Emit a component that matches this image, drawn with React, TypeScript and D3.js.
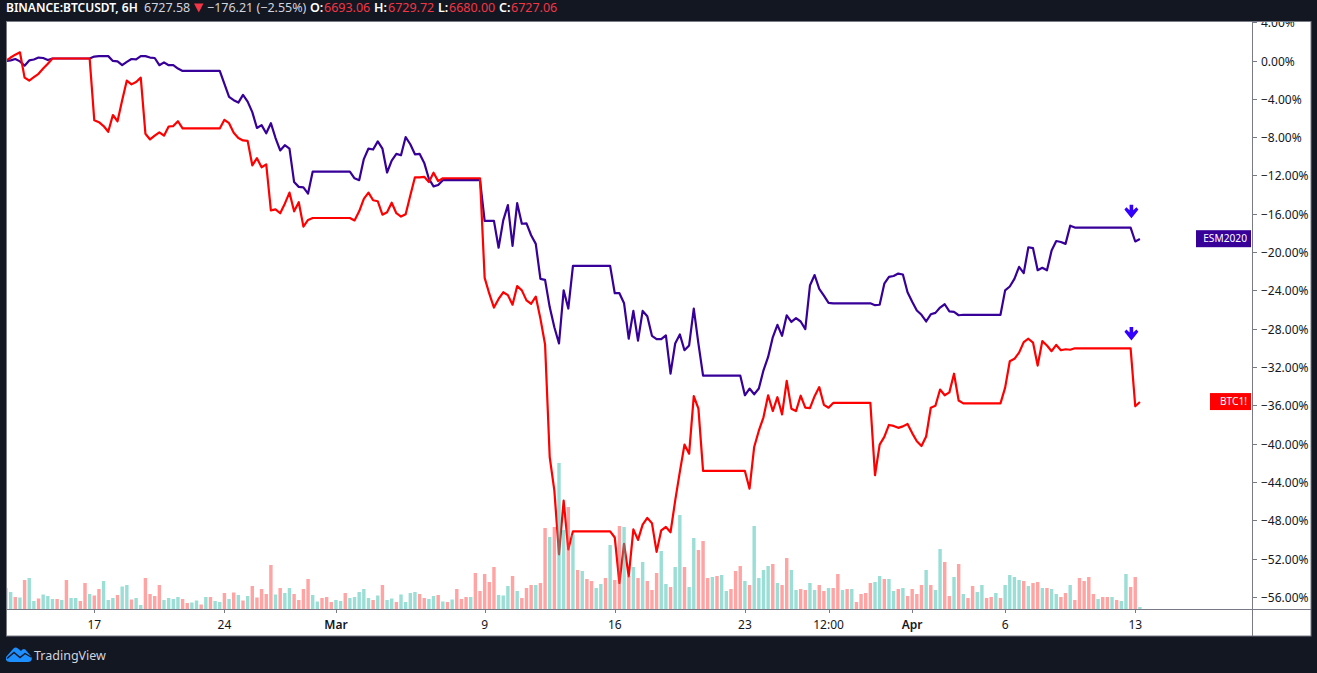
import React from "react";
import * as d3 from "d3";

const W = 1317, H = 673;

// percent change, one value per 6h bar
const esmValues: number[] = [
  /*0*/ 0, 0.05, 0.2, -0.05, -0.5, 0.05, 0.15, 0.35, 0.3, 0.1,
  /*10*/ 0.25, 0.25, 0.25, 0.25, 0.25, 0.25, 0.25, 0.25, 0.25,
  /*19*/ 0.45, 0.5, 0.5, 0.5, 0, -0.05, -0.45, -0.1, 0.2, 0.15, 0.5, 0.5, 0.35, 0.3, -0.45, -0.15, -0.45, -0.45, -0.8,
  /*38*/ -1.05, -1.05, -1.05, -1.05, -1.05, -1.05, -1.05, -1.05, -1.05,
  /*47*/ -2.4, -3.75, -4.1, -4.35, -3.55, -4.25, -5.35, -7, -6.7, -7.55, -6.5, -8.05, -9.35, -8.8, -9.15, -12.65, -13.15, -13.2, -13.85,
  /*66*/ -11.55, -11.55, -11.55, -11.55, -11.55, -11.55, -11.55, -11.55, -11.55,
  /*75*/ -12.25, -12.45, -10.25, -9.15, -9.25, -8.4, -9.15, -11.65, -10.4, -9.7, -9.85, -7.95, -8.7, -9.75, -9.7, -10.65,
  /*91*/ -12.3, -13.1, -12.95,
  /*94*/ -12.45, -12.45, -12.45, -12.45, -12.45, -12.45, -12.45, -12.45, -12.45,
  /*103*/ -16.7, -16.7, -16.7, -19.5, -16.65, -15.05, -19.3, -14.85, -17, -16.95, -18.2, -19.1, -22.75, -22.85, -25.7, -27.8, -29.5, -23.95, -25.85,
  /*122*/ -21.4, -21.4, -21.4, -21.4, -21.4, -21.4, -21.4, -21.4, -21.4,
  /*131*/ -24.25, -24.25, -25.3, -29, -26.1, -29.2, -26.1, -26.65, -28.7, -29.05, -29.05, -28.65, -32.65, -29.5, -28.55, -30.2, -29.7, -25.85, -29.5,
  /*150*/ -32.85, -32.85, -32.85, -32.85, -32.85, -32.85, -32.85, -32.85, -32.85,
  /*159*/ -34.9, -34.2, -34.8, -34.2, -32.3, -30.9, -28.85, -27.55, -28.7, -26.55, -27.25, -26.85, -27.2, -28, -23.45, -22.35, -23.8, -24.5, -25.25,
  /*178*/ -25.3, -25.3, -25.3, -25.3, -25.3, -25.3, -25.3, -25.3, -25.3,
  /*187*/ -25.5, -25.45, -23.25, -22.55, -22.45, -22.2, -22.3, -24.15, -25.15, -26.05, -26.5, -27.2, -26.45, -26.3, -25.75, -25.4, -26.15, -26.2, -26.55,
  /*206*/ -26.5, -26.5, -26.5, -26.5, -26.5, -26.5, -26.5, -26.5, -26.5,
  /*215*/ -23.95, -23.55, -22.75, -21.5, -22.15, -19.45, -19.55, -21.85, -21.6, -21.85, -19.8, -18.8, -18.9, -19.1, -17.2,
  /*230*/ -17.4, -17.4, -17.4, -17.4, -17.4, -17.4, -17.4, -17.4, -17.4, -17.4, -17.4, -17.4, -17.4,
  /*243*/ -18.85, -18.6,
];

const btcValues: number[] = [
  /*0*/ 0, 0.35, 0.65, 0.9, -1.75, -2.05, -1.7, -1.35, -0.8, -0.3,
  /*10*/ 0.25, 0.25, 0.25, 0.25, 0.25, 0.25, 0.25, 0.25, 0.25,
  /*19*/ -6.2, -6.4, -6.8, -7.4, -5.65, -6.3, -4.1, -2.05, -2.45, -2.2, -1.75, -7.6, -8.2, -7.8, -7.45, -7.8, -6.85, -6.8, -6.3,
  /*38*/ -7.05, -7.05, -7.05, -7.05, -7.05, -7.05, -7.05, -7.05, -7.05,
  /*47*/ -6.15, -6.5, -7.5, -8.05, -8.3, -8.35, -10.9, -10.15, -11.1, -10.8, -15.6, -15.5, -15.9, -14.9, -13.75, -15.7, -14.75, -17.3, -16.6,
  /*66*/ -16.4, -16.4, -16.4, -16.4, -16.4, -16.4, -16.4, -16.4, -16.4,
  /*75*/ -16.65, -15.7, -14.4, -13.75, -14.55, -14.65, -16.05, -15.8, -14.8, -15.9, -16.25, -16, -14.05, -12.15, -12.15, -12.1, -12.65, -11.67, -12.55,
  /*94*/ -12.25, -12.25, -12.25, -12.25, -12.25, -12.25, -12.25, -12.25, -12.25,
  /*103*/ -22.65, -24.3, -25.75, -24.85, -24.15, -24.45, -25.45, -23.5, -23.95, -25, -25.35, -24.6, -26.9, -29.6, -41.35, -44.85, -51.5, -45.9, -51,
  /*122*/ -49.1, -49.1, -49.1, -49.1, -49.1, -49.1, -49.1, -49.1, -49.1,
  /*131*/ -49.75, -54.5, -50.4, -53.8, -48.9, -50, -48.4, -47.7, -48.25, -51.25, -49, -48.65, -49.2, -45.9, -42.9, -40.05, -41, -35, -36.3,
  /*150*/ -42.8, -42.8, -42.8, -42.8, -42.8, -42.8, -42.8, -42.8, -42.8, -42.8,
  /*160*/ -44.65, -40.3, -38.6, -37.2, -34.9, -36.55, -35.1, -36.9, -33.4, -36.3, -36.55, -34.95, -36.2, -36.25, -35, -34.05, -35.9, -36.2,
  /*178*/ -35.7, -35.7, -35.7, -35.7, -35.7, -35.7, -35.7, -35.7, -35.7,
  /*187*/ -43.25, -40.05, -39.25, -38, -38.1, -38.3, -38.15, -37.9, -38.85, -39.7, -40.2, -39.2, -36.2, -36, -34.3, -34.9, -34.6, -32.65, -35.45,
  /*206*/ -35.75, -35.75, -35.75, -35.75, -35.75, -35.75, -35.75, -35.75, -35.75,
  /*215*/ -34.1, -31.35, -31.1, -30.45, -29.35, -29, -29.4, -31.8, -29.25, -29.7, -30.3, -29.65, -30.2, -30.1, -30.15,
  /*230*/ -30, -30, -30, -30, -30, -30, -30, -30, -30, -30, -30, -30, -30,
  /*243*/ -36.05, -35.6,
];

// volume in arbitrary units
const volumeValues: number[] = [
  /*0*/ 21, 17, 12, 11.5, 29, 31, 8, 10.5, 14.5, 13,
  /*10*/ 10, 10, 9, 29, 11, 11, 8, 26, 15, 13.5,
  /*20*/ 20, 28, 9, 11, 14, 22.5, 24, 9.5, 11, 4,
  /*30*/ 31, 15, 13, 24, 9, 11, 10, 12, 10, 6,
  /*40*/ 6.5, 8.5, 4.5, 12, 12, 8, 7, 16, 10, 16.5,
  /*50*/ 14, 8.5, 13, 23, 11.5, 20, 15, 44, 14.5, 21,
  /*60*/ 16, 21, 15, 9, 20, 30, 14, 7.5, 11, 12,
  /*70*/ 7, 9, 8, 16, 11, 12, 17, 20, 11, 9,
  /*80*/ 13.5, 24, 9, 10.5, 7, 14.5, 7, 16, 17, 15,
  /*90*/ 11, 10, 13, 14, 7.5, 7, 9.5, 20, 10, 12,
  /*100*/ 12, 36, 18, 35, 27, 42, 14, 13.5, 23, 33,
  /*110*/ 18, 11, 21, 24, 24, 26, 81, 72, 82, 146,
  /*120*/ 79, 102, 74, 39, 38, 30, 28, 21, 25, 31,
  /*130*/ 64, 29, 83, 82, 33, 42, 31, 47, 28, 19,
  /*140*/ 36, 58, 25, 22, 42, 94, 42, 22, 71, 59,
  /*150*/ 68, 31, 32, 33, 34, 18, 20, 38, 43, 28,
  /*160*/ 24, 83, 31, 39, 43, 45, 26, 24, 51, 39,
  /*170*/ 19, 20, 19, 26, 19, 24, 18, 21, 21, 35,
  /*180*/ 19, 20, 20, 7, 15, 16, 26, 27, 33, 30,
  /*190*/ 30, 18, 20, 21, 13, 20, 15, 24, 39, 24,
  /*200*/ 19, 60, 47, 13, 32, 45, 15, 11, 23, 17,
  /*210*/ 24, 11, 12, 16, 11, 24, 34, 32, 29, 28,
  /*220*/ 23, 26, 27, 21, 21, 20, 15, 12, 16, 24,
  /*230*/ 9, 31, 28, 32, 15, 10, 12, 12, 12, 9,
  /*240*/ 8, 35, 22, 32, 2,
];

// 1 = rising bar, 0 = falling bar
const volumeUp: number[] = [
  /*0*/ 1, 1, 0, 1, 0, 1, 1, 0, 1, 1,
  /*10*/ 1, 0, 1, 0, 1, 1, 0, 0, 1, 0,
  /*20*/ 0, 1, 1, 1, 0, 1, 1, 0, 1, 1,
  /*30*/ 0, 0, 0, 0, 1, 1, 1, 1, 0, 0,
  /*40*/ 1, 1, 0, 1, 0, 1, 1, 0, 1, 0,
  /*50*/ 1, 0, 1, 0, 0, 0, 0, 0, 1, 0,
  /*60*/ 1, 1, 0, 0, 0, 0, 1, 1, 0, 0,
  /*70*/ 0, 1, 1, 0, 1, 1, 1, 1, 1, 0,
  /*80*/ 1, 0, 1, 1, 0, 1, 1, 1, 1, 0,
  /*90*/ 0, 1, 1, 0, 1, 0, 1, 0, 0, 0,
  /*100*/ 1, 0, 0, 0, 0, 0, 1, 1, 1, 0,
  /*110*/ 1, 0, 0, 0, 1, 0, 0, 1, 0, 1,
  /*120*/ 1, 0, 1, 0, 1, 0, 0, 1, 1, 0,
  /*130*/ 1, 0, 0, 1, 0, 1, 0, 1, 0, 0,
  /*140*/ 0, 1, 1, 0, 1, 1, 0, 1, 1, 0,
  /*150*/ 0, 0, 1, 0, 1, 1, 0, 0, 0, 1,
  /*160*/ 0, 1, 1, 1, 1, 0, 1, 0, 0, 1,
  /*170*/ 1, 0, 0, 1, 1, 0, 0, 1, 0, 0,
  /*180*/ 1, 0, 1, 0, 0, 0, 0, 1, 1, 0,
  /*190*/ 1, 1, 0, 1, 0, 0, 0, 0, 1, 0,
  /*200*/ 1, 1, 0, 0, 1, 0, 1, 0, 0, 1,
  /*210*/ 1, 0, 0, 1, 0, 1, 1, 1, 1, 0,
  /*220*/ 1, 0, 0, 1, 0, 1, 1, 0, 0, 1,
  /*230*/ 0, 0, 0, 0, 0, 1, 0, 0, 1, 0,
  /*240*/ 1, 1, 0, 0, 1,
];

const xTickLabels = ["17", "24", "Mar", "9", "16", "23", "12:00", "Apr", "6", "13"];
const xTickBars = [19, 47, 71, 103, 131, 159, 177, 195, 215, 243];
const boldXTicks = ["Mar", "Apr"];
const yTickValues = [4, 0, -4, -8, -12, -16, -20, -24, -28, -32, -36, -40, -44, -48, -52, -56];
const headerParts: [string, number, string, number, number][] = [
  ["BINANCE:BTCUSDT, 6H", 6, "#ffffff", 600, 12],
  ["6727.58", 144, "#d1d4dc", 400, 12.5],
  ["−176.21 (−2.55%)", 207, "#d1d4dc", 400, 12.5],
  ["O:", 310, "#ffffff", 600, 12.5],
  ["6693.06", 324, "#f23645", 400, 12.5],
  ["H:", 374, "#ffffff", 600, 12.5],
  ["6729.72", 388, "#f23645", 400, 12.5],
  ["L:", 438, "#ffffff", 600, 12.5],
  ["6680.00", 449, "#f23645", 400, 12.5],
  ["C:", 499, "#ffffff", 600, 12.5],
  ["6727.06", 511, "#f23645", 400, 12.5],
];
const arrowBar = 242;
const arrowValues = [-15.8, -28.55];

const BG = "#131722";
const ESM = "#370099";
const BTC = "#ff0000";
const UP = "#37bdad";
const DOWN = "#ff4747";
const GRID = "#787b86";
const FONT = "'Noto Sans', sans-serif";

const plot = { left: 7, right: 1252, frameRight: 1311, top: 22, axis: 609, bottom: 636 };

const x = d3.scaleLinear().domain([0, 244]).range([6, 1139.9]);
const y = d3.scaleLinear().domain([0, -56]).range([60.5, 597]);
const v = d3.scaleLinear().domain([0, 146]).range([plot.axis, plot.axis - 146]);
const line = d3.line<number>().x((_, i) => x(i)).y((d) => y(d));
const pct = (t: number) => (t < 0 ? "−" : "") + Math.abs(t).toFixed(2) + "%";

const lastEsm = esmValues[esmValues.length - 1];
const lastBtc = btcValues[btcValues.length - 1];

export default function App() {
  return (
    <svg width={W} height={H} viewBox={`0 0 ${W} ${H}`} style={{ position: "fixed", left: 0, top: 0, display: "block" }} fontFamily={FONT}>
      <defs>
        <clipPath id="plotClip"><rect x={plot.left} y={plot.top} width={plot.right - plot.left} height={plot.axis - plot.top} /></clipPath>
        <clipPath id="axisClip"><rect x={plot.right} y={plot.top} width={plot.frameRight - plot.right} height={plot.axis - plot.top} /></clipPath>
      </defs>
      <rect width={W} height={H} fill={BG} />
      <rect x={plot.left - 0.5} y={plot.top - 0.5} width={plot.frameRight - plot.left + 0.5} height={plot.bottom - plot.top + 0.5} fill="#ffffff" stroke={GRID} strokeWidth={1} />

      <g clipPath="url(#plotClip)">
        <path d={line(esmValues) ?? ""} fill="none" stroke={ESM} strokeWidth={2.2} strokeLinejoin="round" transform="translate(0,0.4)" />
        <path d={line(btcValues) ?? ""} fill="none" stroke={BTC} strokeWidth={2.2} strokeLinejoin="round" transform="translate(0,0.4)" />
        {volumeValues.map((d, i) => (
          <rect key={i} x={x(i) - 1.7} y={v(d)} width={3.4} height={plot.axis - v(d)} fill={volumeUp[i] ? UP : DOWN} fillOpacity={0.5} />
        ))}
        {arrowValues.map((a) => (
          <path key={a} transform={`translate(${x(arrowBar) + 0.8},${y(a)})`} fill="#3300ff"
            d="M-1.8,-7 H1.8 V-1.5 L5,-4.5 L7,-2.3 L0,6.5 L-7,-2.3 L-5,-4.5 L-1.8,-1.5 Z" />
        ))}
      </g>

      <line x1={plot.left} x2={plot.frameRight} y1={plot.axis + 0.5} y2={plot.axis + 0.5} stroke={GRID} />
      <line x1={plot.right + 0.5} x2={plot.right + 0.5} y1={plot.top} y2={plot.bottom} stroke={GRID} />

      {xTickBars.map((b, i) => (
        <g key={b}>
          <line x1={Math.round(x(b)) + 0.5} x2={Math.round(x(b)) + 0.5} y1={plot.axis} y2={plot.axis + 4} stroke={GRID} />
          <text x={x(b)} y={629} textAnchor="middle" fontSize={12} fill="#131722" fontWeight={boldXTicks.includes(xTickLabels[i]) ? 600 : 400}>{xTickLabels[i]}</text>
        </g>
      ))}

      <g clipPath="url(#axisClip)">
        {yTickValues.map((t) => (
          <g key={t}>
            <line x1={plot.right} x2={plot.right + 5} y1={Math.round(y(t)) + 0.5} y2={Math.round(y(t)) + 0.5} stroke={GRID} />
            <text x={1261} y={y(t) + 5} fontSize={12} fill="#131722">{pct(t)}</text>
          </g>
        ))}
      </g>

      <rect x={1196} y={y(lastEsm) - 8.5} width={55} height={17} fill={ESM} />
      <text x={1247} y={y(lastEsm) + 3.5} textAnchor="end" fontSize={10.2} fill="#ffffff">ESM2020</text>
      <rect x={1210} y={y(lastBtc) - 8.5} width={41} height={17} fill={BTC} />
      <text x={1247} y={y(lastBtc) + 3.5} textAnchor="end" fontSize={10.2} fill="#ffffff">BTC1!</text>

      {headerParts.map(([t, px, c, w, s]) => (
        <text key={t} x={px} y={12} fontSize={s} fill={c} fontWeight={w}>{t}</text>
      ))}
      <path d="M194,3.5 H203.5 L198.75,12.5 Z" fill="#f23645" />

      <path fill="#1e8fff" d="M6,657 L13.5,648.5 Q15.5,646.5 18,648.5 L21,651 Q24,647 27,651.5 L30,655 Q32.5,658 31.5,660 Q31,662 28,662 H10 Q7,662 6,660 Z" />
      <path fill="none" stroke={BG} strokeWidth={1.4} d="M7,658.5 L14,652.5 L20,657.5 L25,653.5 L31,657" />
      <text x={34} y={660} fontSize={12.5} fill="#d1d4dc">TradingView</text>
    </svg>
  );
}
